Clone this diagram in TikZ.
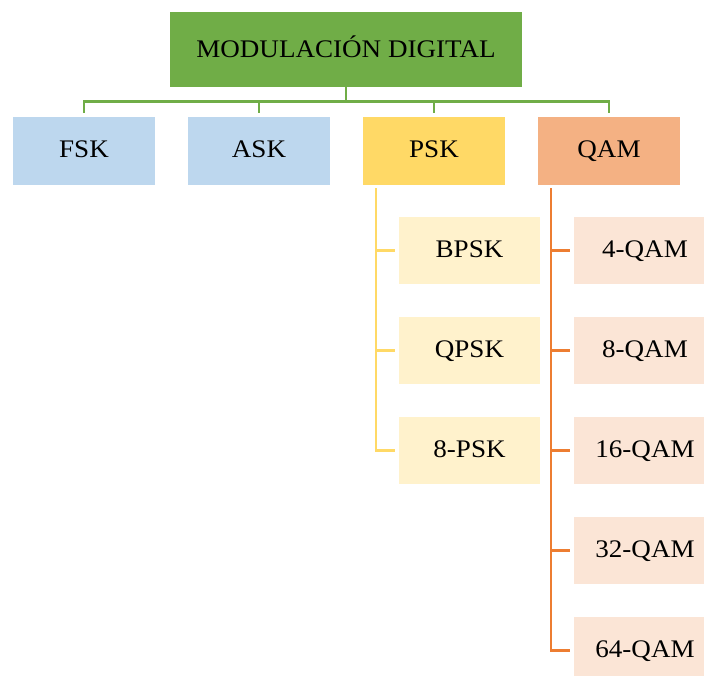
\documentclass[tikz,border=0pt]{standalone}
\usepackage{fontspec}
\setmainfont[FakeStretch=1.07]{Liberation Serif}
\definecolor{topgreen}{HTML}{70AD47}
\definecolor{bluefill}{HTML}{BDD7EE}
\definecolor{goldfill}{HTML}{FFD966}
\definecolor{peachfill}{HTML}{F4B183}
\definecolor{palegold}{HTML}{FFF2CC}
\definecolor{palepeach}{HTML}{FBE5D6}
\definecolor{orangeline}{HTML}{ED7D31}
\begin{document}
\begin{tikzpicture}[x=1pt,y=-1pt,
  box/.style={rectangle,inner sep=0pt,minimum width=142pt,minimum height=68pt,
    font=\fontsize{25.3}{30}\selectfont,text height=16.7pt,text depth=4pt},
  subbox/.style={box,minimum height=67pt,text depth=2.4pt},
  gline/.style={draw=topgreen,line width=2.6pt},
  yline/.style={draw=goldfill,line width=2.6pt},
  oline/.style={draw=orangeline,line width=2.6pt}]
\useasboundingbox (0,0) rectangle (704,675);
\clip (0,0) rectangle (704,675);

% root
\node[box,fill=topgreen,minimum width=352pt,minimum height=75pt,text depth=1pt] (root) at (346,49.5) {MODULACIÓN DIGITAL};

% first level
\node[box,fill=bluefill] (fsk) at (84,151) {FSK};
\node[box,fill=bluefill] (ask) at (259,151) {ASK};
\node[box,fill=goldfill] (psk) at (434,151) {PSK};
\node[box,fill=peachfill] (qam) at (609,151) {QAM};

% PSK family
\node[subbox,fill=palegold,minimum width=141pt] (bpsk) at (469.5,250.5) {BPSK};
\node[subbox,fill=palegold,minimum width=141pt] (qpsk) at (469.5,350.5) {QPSK};
\node[subbox,fill=palegold,minimum width=141pt] (psk8) at (469.5,450.5) {8-PSK};

% QAM family
\node[subbox,fill=palepeach] (qam4) at (645,250.5) {4-QAM};
\node[subbox,fill=palepeach] (qam8) at (645,350.5) {8-QAM};
\node[subbox,fill=palepeach] (qam16) at (645,450.5) {16-QAM};
\node[subbox,fill=palepeach] (qam32) at (645,550.5) {32-QAM};
\node[subbox,fill=palepeach] (qam64) at (645,650.5) {64-QAM};

% root to first level
\foreach \n in {fsk,ask,psk,qam}
  \draw[gline] (root.south) -- ++(0,14) -| ([yshift=4pt]\n.north);

% PSK branches
\foreach \n in {bpsk,qpsk,psk8}
  \draw[yline] ([xshift=13pt,yshift=-3pt]psk.south west) |- ([xshift=-4pt]\n.west);

% QAM branches
\foreach \n in {qam4,qam8,qam16,qam32,qam64}
  \draw[oline] ([xshift=13pt,yshift=-3pt]qam.south west) |- ([xshift=-4pt]\n.west);
\end{tikzpicture}
\end{document}
